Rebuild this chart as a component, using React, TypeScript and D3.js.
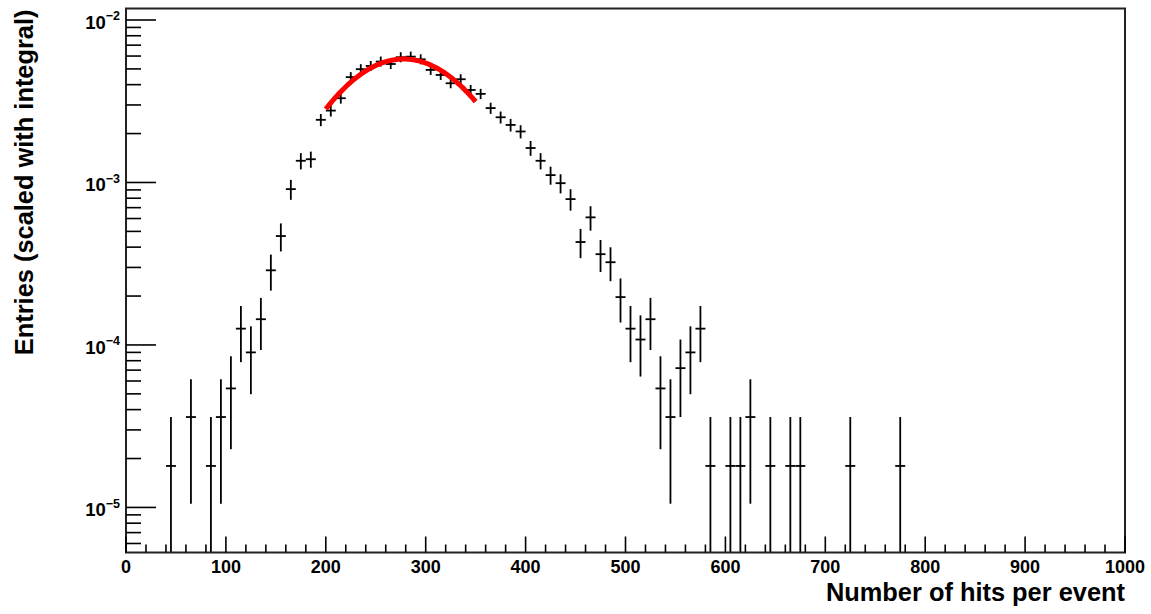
import React from "react";
import * as d3 from "d3";

// Histogram bins (centre of 10-wide bins) and normalised contents
const binCenters = [45, 65, 85, 95, 105, 115, 125, 135, 145, 155, 165, 175, 185, 195, 205, 215, 225, 235, 245, 255, 265, 275, 285, 295, 305, 315, 325, 335, 345, 355, 365, 375, 385, 395, 405, 415, 425, 435, 445, 455, 465, 475, 485, 495, 505, 515, 525, 535, 545, 555, 565, 575, 585, 605, 615, 625, 645, 665, 675, 725, 775];
const binValues = [1.8e-5, 3.6e-5, 1.8e-5, 3.6e-5, 5.4e-5, 1.26e-4, 9.0e-5, 1.44e-4, 2.88e-4, 4.68e-4, 9.1e-4, 1.36e-3, 1.39e-3, 2.43e-3, 2.77e-3, 3.30e-3, 4.45e-3, 4.98e-3, 5.21e-3, 5.55e-3, 5.36e-3, 5.90e-3, 5.95e-3, 5.73e-3, 4.93e-3, 4.59e-3, 4.08e-3, 4.32e-3, 3.71e-3, 3.51e-3, 2.87e-3, 2.52e-3, 2.26e-3, 2.06e-3, 1.63e-3, 1.36e-3, 1.11e-3, 9.9e-4, 7.9e-4, 4.3e-4, 6.1e-4, 3.62e-4, 3.23e-4, 1.97e-4, 1.26e-4, 1.08e-4, 1.44e-4, 5.4e-5, 3.6e-5, 7.2e-5, 9.0e-5, 1.26e-4, 1.8e-5, 1.8e-5, 1.8e-5, 3.6e-5, 1.8e-5, 1.8e-5, 1.8e-5, 1.8e-5, 1.8e-5];
const binWidth = 10;
const entryWeight = 1.8e-5; // weight of a single entry (Poisson errors)

// Gaussian fit parameters
const fitConst = 5.75e-3;
const fitMean = 278;
const fitSigma = 65.5;
const fitRange = [200, 350];

const xTickValues = [0, 100, 200, 300, 400, 500, 600, 700, 800, 900, 1000];
const yDecades = [-5, -4, -3, -2];

const xTitle = "Number of hits per event";
const yTitle = "Entries (scaled with integral)";

const W = 1151;
const H = 614;
const L = 126, R = 1125, T = 8.5, B = 552.5;

export default function App() {
  const x = d3.scaleLinear().domain([0, 1000]).range([L, R]);
  const y = d3.scaleLog().domain([5.28e-6, 1.177e-2]).range([B, T]);
  const font = "'Liberation Sans', Arial, Helvetica, sans-serif";

  // y minor ticks
  const yMinor: number[] = [];
  for (let e = -6; e <= -2; e++) {
    for (let m = 2; m <= 9; m++) {
      const v = m * Math.pow(10, e);
      if (v >= 5.28e-6 && v <= 1.177e-2) yMinor.push(v);
    }
  }
  const xMinor = d3.range(0, 1001, 20).filter((v) => v % 100 !== 0);

  const fitPts = d3.range(fitRange[0], fitRange[1] + 0.01, 1).map((t) => [t, fitConst * Math.exp(-((t - fitMean) ** 2) / (2 * fitSigma * fitSigma))]);
  const fitLine = d3.line<number[]>().x((d) => x(d[0])).y((d) => y(d[1]))(fitPts) || "";

  return (
    <svg width={W} height={H} style={{ position: "absolute", left: 0, top: 0, background: "#fff" }} fontFamily={font}>
      {/* data */}
      <g stroke="#000" strokeWidth={1.8} fill="none">
        {binCenters.map((c, i) => {
          const v = binValues[i];
          const err = Math.sqrt(v * entryWeight);
          const yc = y(v);
          const yTop = Math.min(yc - 5, y(v + err));
          const lo = v - err;
          const yBot = lo > 5.28e-6 ? Math.max(yc + 5, y(lo)) : B;
          return (
            <g key={c}>
              <line x1={x(c - binWidth / 2)} x2={x(c + binWidth / 2)} y1={yc} y2={yc} />
              <line x1={x(c)} x2={x(c)} y1={yTop} y2={Math.min(yBot, B)} />
            </g>
          );
        })}
      </g>
      <path d={fitLine} stroke="#ff0000" strokeWidth={5} fill="none" strokeLinecap="butt" />

      {/* frame */}
      <rect x={L} y={T} width={R - L} height={B - T} fill="none" stroke="#222" strokeWidth={2} />

      {/* y ticks */}
      <g stroke="#000" strokeWidth={1.6}>
        {yDecades.map((e) => (
          <line key={e} x1={L} x2={L + 30} y1={y(Math.pow(10, e))} y2={y(Math.pow(10, e))} />
        ))}
        {yMinor.map((v) => (
          <line key={v} x1={L} x2={L + 15} y1={y(v)} y2={y(v)} />
        ))}
      </g>
      {yDecades.map((e) => (
        <text key={e} x={L - 6} y={y(Math.pow(10, e)) + 9} textAnchor="end" fontWeight="bold" fontSize={18.5} fill="#000">
          10<tspan dy={-8.5} fontSize={12.5}>{"\u2212" + Math.abs(e)}</tspan>
        </text>
      ))}

      {/* x ticks */}
      <g stroke="#000" strokeWidth={1.6}>
        {xTickValues.map((v) => (
          <line key={v} x1={x(v)} x2={x(v)} y1={B} y2={B - 16} />
        ))}
        {xMinor.map((v) => (
          <line key={v} x1={x(v)} x2={x(v)} y1={B} y2={B - 8} />
        ))}
      </g>
      {xTickValues.map((v) => (
        <text key={v} x={x(v)} y={573} textAnchor="middle" fontWeight="bold" fontSize={18} fill="#000">
          {v}
        </text>
      ))}

      {/* titles */}
      <text x={R} y={601} textAnchor="end" fontWeight="bold" fontSize={25.4} fill="#000">
        {xTitle}
      </text>
      <text transform={`translate(33, ${T + 1}) rotate(-90)`} textAnchor="end" fontWeight="bold" fontSize={25.4} fill="#000">
        {yTitle}
      </text>
    </svg>
  );
}
